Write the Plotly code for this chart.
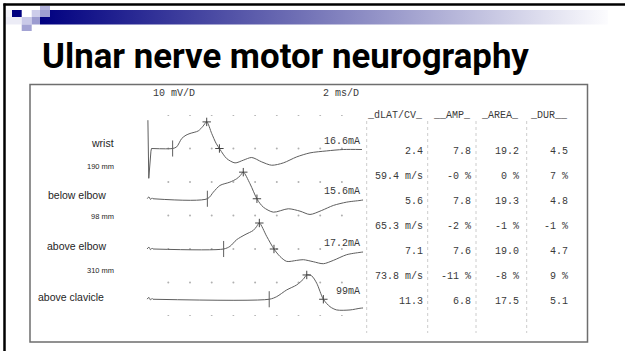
import plotly.graph_objects as go
import numpy as np

W, H = 625, 351

# ---------------- data ----------------
title = "Ulnar nerve motor neurography"
sites = ["wrist", "below elbow", "above elbow", "above clavicle"]
segment_lengths = ["190 mm", "98 mm", "310 mm"]
stim_currents = ["16.6mA", "15.6mA", "17.2mA", "99mA"]
headers = ["_dLAT/CV_", "__AMP_", "_AREA_", "_DUR__"]
gain_label = "10 mV/D"
sweep_label = "2 ms/D"

dlat_ms = [2.4, 5.6, 7.1, 11.3]
cv_mps = [59.4, 65.3, 73.8]
amp_mv = [7.8, 7.8, 7.6, 6.8]
amp_change = ["-0 %", "-2 %", "-11 %"]
area_mvms = [19.2, 19.3, 19.0, 17.5]
area_change = ["0 %", "-1 %", "-8 %"]
dur_ms = [4.5, 4.8, 4.7, 5.1]
dur_change = ["7 %", "-1 %", "9 %"]

# waveforms: time (ms) and amplitude (mV, relative to own baseline)
artifact_t = [0.12, 0.20, 0.40, 0.45]
artifact_v = [8.45, -8.9, -0.8, 0.0]
squiggle_t = [0.04, 0.22, 0.36, 0.50, 0.59]
squiggle_v = [0.0, 0.54, -0.2, 0.24, 0.0]

wrist_t = [0.45, 2.4, 2.77, 3.24, 3.63, 4.0, 4.76, 5.2, 5.54, 6.0, 6.4, 6.77, 7.38,
           8.15, 8.91, 9.69, 10.61, 11.53, 12.6, 13.83, 15.06, 16.6, 18.13, 19.85]
wrist_v = [0.0, 0.0, 0.48, 2.99, 3.97, 4.48, 5.25, 6.66, 7.94, 4.48, 1.58, -0.3, -2.99,
           -4.3, -3.49, -2.69, -4.0, -4.99, -4.3, -2.51, -1.31, -0.72, -0.3, -0.3]

below_elbow_t = [0.59, 5.6, 6.15, 6.76, 7.68, 8.30, 8.65, 8.91, 9.53, 10.2, 10.76, 11.68,
                 13.06, 14.14, 15.06, 16.14, 17.21, 18.44, 19.67, 19.95]
below_elbow_v = [0.0, 0.0, 1.97, 3.97, 4.96, 5.97, 6.96, 7.94, 4.48, -0.21, -2.51, -4.0,
                 -2.99, -3.7, -4.69, -3.49, -2.0, -1.01, -0.51, -0.36]

above_elbow_t = [0.59, 7.1, 7.68, 8.30, 9.07, 9.83, 10.13, 10.39, 11.07, 11.74, 12.29, 12.91,
                 13.83, 14.44, 15.36, 16.29, 17.21, 18.44, 19.67, 19.95]
above_elbow_v = [0.0, 0.0, 0.78, 2.78, 4.27, 5.55, 6.66, 7.76, 3.76, 0.0, -2.21, -3.70,
                 -3.40, -3.19, -3.79, -4.39, -3.40, -1.70, -1.01, -0.9]

above_clavicle_t = [0.59, 11.3, 11.99, 12.91, 13.83, 14.44, 14.76, 15.22, 15.68, 16.29,
                    16.9, 17.52, 18.75, 19.67, 19.95]
above_clavicle_v = [0.0, 0.0, 0.78, 2.78, 4.27, 5.97, 7.25, 6.96, 4.78, 0.0,
                    -2.21, -3.19, -3.19, -2.69, -2.6]

waves = [(wrist_t, wrist_v), (below_elbow_t, below_elbow_v),
         (above_elbow_t, above_elbow_v), (above_clavicle_t, above_clavicle_v)]

# ---------------- layout helpers ----------------
MS_PER_DIV, MV_PER_DIV = 2, 10
N_XDIV, N_YDIV = 10, 6
trace_offsets = [50, 35, 20, 5]          # mV offset of each trace in the stack
X0, X1 = 146.6, 363.6                    # pixel extent of sweep
Y0, Y1 = 316.0, 115.0                    # pixel extent of gain grid (bottom, top)

TRACE_COL = "#5e5e5e"
TEXT_COL = "#3a3a3a"
MONO = "Liberation Mono, DejaVu Sans Mono"
SANS = "Liberation Sans, Arial"

fig = go.Figure()

# header gradient bar (pixel axes)
fig.add_trace(go.Scatter(
    x=[40, 608, 608, 40, 40], y=[10, 10, 24.5, 24.5, 10],
    mode="lines", line=dict(width=0), fill="toself",
    fillgradient=dict(type="horizontal",
                      colorscale=[[0, "#000080"], [0.45, "#6e6eb4"], [1, "#fcfcfe"]]),
    hoverinfo="skip", showlegend=False, xaxis="x", yaxis="y"))

# grid dots
gx, gy = np.meshgrid(np.arange(MS_PER_DIV, N_XDIV * MS_PER_DIV, MS_PER_DIV),
                     np.arange(0, N_YDIV * MV_PER_DIV + 1, MV_PER_DIV))
fig.add_trace(go.Scatter(x=gx.ravel(), y=gy.ravel(), mode="markers",
                         marker=dict(size=2, color="#b0b0b0"),
                         hoverinfo="skip", showlegend=False, xaxis="x2", yaxis="y2"))

for i, ((t, v), off) in enumerate(zip(waves, trace_offsets)):
    v = np.array(v) + off
    if i == 0:
        st, sv = artifact_t, np.array(artifact_v) + off
        shape = "linear"
    else:
        st, sv = squiggle_t, np.array(squiggle_v) + off
        shape = "spline"
    fig.add_trace(go.Scatter(x=st, y=sv, mode="lines", line=dict(color=TRACE_COL, width=1, shape=shape),
                             hoverinfo="skip", showlegend=False, xaxis="x2", yaxis="y2"))
    fig.add_trace(go.Scatter(x=t, y=v, mode="lines",
                             line=dict(color=TRACE_COL, width=1, shape="spline", smoothing=0.8),
                             hoverinfo="skip", showlegend=False, xaxis="x2", yaxis="y2"))
    # onset tick
    d = dlat_ms[i]
    fig.add_trace(go.Scatter(x=[d, d], y=[off - 2.4, off + 2.4], mode="lines",
                             line=dict(color=TRACE_COL, width=1),
                             hoverinfo="skip", showlegend=False, xaxis="x2", yaxis="y2"))
    # peak and baseline-crossing markers
    raw = np.array(v) - off
    k = int(np.argmax(raw))
    tt = np.array(t)
    j = k + int(np.argmax(raw[k:] <= 0))
    if raw[j] == 0 or j == k:
        tc = tt[j]
    else:
        tc = tt[j - 1] + (0 - raw[j - 1]) * (tt[j] - tt[j - 1]) / (raw[j] - raw[j - 1])
    fig.add_trace(go.Scatter(x=[tt[k], tc], y=[raw[k] + off, off], mode="markers",
                             marker=dict(symbol="cross-thin", size=6,
                                         line=dict(width=1, color="#444")),
                             hoverinfo="skip", showlegend=False, xaxis="x2", yaxis="y2"))

shapes = []
# squares decoration
squares = [
    (5, 10, 12, 17, "#f2f2f9"), (12, 10, 21.7, 17, "#000080"), (31.7, 10, 40, 17, "#cdcdea"),
    (40, 10, 50, 17, "#9d9dd1"), (40, 5.7, 50, 10, "#b3b3dd"),
    (5, 17, 21.7, 24.5, "#ececf6"), (21.7, 17, 31.7, 24.5, "#c9c9e8"), (31.7, 17, 40, 24.5, "#9c9cd0"),
    (21.7, 24.5, 31.7, 31, "#a3a3d4"),
]
for x0, y0, x1, y1, c in squares:
    shapes.append(dict(type="rect", xref="x", yref="y", x0=x0, y0=y0, x1=x1, y1=y1,
                       fillcolor=c, line=dict(width=0)))
# slide frame (top & left)
shapes.append(dict(type="line", xref="x", yref="y", x0=3.5, y0=4.5, x1=625, y1=4.5,
                   line=dict(color="black", width=2.5)))
shapes.append(dict(type="line", xref="x", yref="y", x0=4.5, y0=3.5, x1=4.5, y1=351,
                   line=dict(color="black", width=2.5)))
# picture box
shapes.append(dict(type="rect", xref="x", yref="y", x0=30, y0=84.5, x1=587.5, y1=342,
                   line=dict(color="#6e6e6e", width=1.5)))
# table column separators
for xs in [366.7, 427.7, 476.0, 526.7]:
    shapes.append(dict(type="line", xref="x", yref="y", x0=xs, y0=121, x1=xs, y1=333,
                       line=dict(color="#cccccc", width=1, dash="dot")))

ann = []
def txt(x, y, s, size, family, color=TEXT_COL, xanchor="left", bold=False):
    ann.append(dict(x=x, y=y, xref="x", yref="y", text=s, showarrow=False,
                    xanchor=xanchor, yanchor="middle",
                    font=dict(size=size, family=family, color=color,
                              weight=700 if bold else 400)))

txt(40, 56, title, 34.8, "Roboto", color="#000000", bold=True)
txt(151, 93.5, gain_label, 10, MONO)
txt(321, 93.5, sweep_label, 10, MONO)

site_pos = [(116, 143.3), (108, 195), (108, 246), (106, 296.7)]
for s, (x, y) in zip(sites, site_pos):
    txt(x, y, s, 10.5, SANS, color="#1e1e1e", xanchor="right")
for s, y in zip(segment_lengths, [166.7, 216.7, 270]):
    txt(116, y, s, 7.5, SANS, color="#1e1e1e", xanchor="right")
for s, y in zip(stim_currents, [141.5, 191.5, 243, 291.5]):
    txt(362, y, s, 10, MONO, xanchor="right")

col_right = [424.5, 472.5, 521, 569.5]
for h, xr in zip(headers, col_right):
    txt(xr, 115.5, h, 10, MONO, xanchor="right")

rows = []
for i in range(4):
    rows.append([f"{dlat_ms[i]:.1f}", f"{amp_mv[i]:.1f}", f"{area_mvms[i]:.1f}", f"{dur_ms[i]:.1f}"])
    if i < 3:
        rows.append([f"{cv_mps[i]:.1f} m/s", amp_change[i], area_change[i], dur_change[i]])
for r, cells in enumerate(rows):
    y = 151 + 25 * r
    for c, xr in zip(cells, col_right):
        txt(xr, y, c, 10, MONO, xanchor="right")

fig.update_layout(
    width=W, height=H, margin=dict(l=0, r=0, t=0, b=0),
    paper_bgcolor="white", plot_bgcolor="rgba(0,0,0,0)",
    showlegend=False, shapes=shapes, annotations=ann,
    xaxis=dict(range=[0, W], domain=[0, 1], visible=False, fixedrange=True),
    yaxis=dict(range=[H, 0], domain=[0, 1], visible=False, fixedrange=True),
    xaxis2=dict(range=[0, N_XDIV * MS_PER_DIV], domain=[X0 / W, X1 / W], anchor="y2",
                visible=False, fixedrange=True),
    yaxis2=dict(range=[0, N_YDIV * MV_PER_DIV], domain=[1 - Y0 / H, 1 - Y1 / H], anchor="x2",
                visible=False, fixedrange=True),
)

fig.write_html("out.html", config={"displayModeBar": False},
               post_script="document.body.style.margin='0';document.body.style.overflow='hidden';")
